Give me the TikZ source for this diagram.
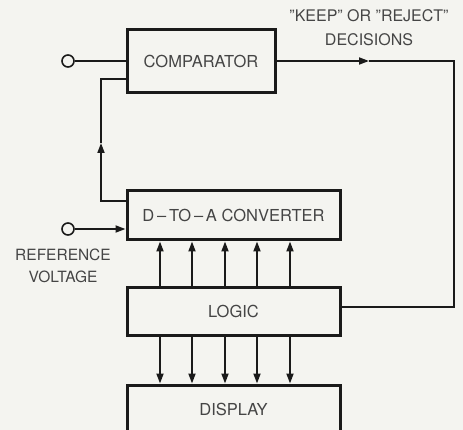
\documentclass[tikz,border=0pt]{standalone}
\usepackage{fontspec}
\setmainfont{TeX Gyre Heros}
\usetikzlibrary{arrows.meta}
\definecolor{txt}{HTML}{454545}
\definecolor{bg}{HTML}{F4F4F0}
\definecolor{ink}{HTML}{1A1A1A}
\begin{document}
\begin{tikzpicture}[x=1pt,y=-1pt,
  blk/.style={draw=ink, line width=3pt, fill=bg, rectangle, inner sep=0pt, font=\fontsize{16.5}{19}\selectfont, text=txt},
  term/.style={draw=ink, line width=1.6pt, circle, minimum size=12pt, inner sep=0pt, fill=bg},
  wire/.style={draw=ink, line width=1.8pt},
  arr/.style={wire, -{Triangle[length=10pt,width=7pt]}},
  lbl/.style={font=\fontsize{16}{19}\selectfont, text=txt, align=center}]
\fill[bg] (0,0) rectangle (463,430);
\useasboundingbox (0,0) rectangle (463,430);

\node[blk, minimum width=148pt, minimum height=63pt] (comp) at (201,61.5) {COMPARATOR};
\node[blk, minimum width=213pt, minimum height=49pt] (dac) at (233.5,215.5) {D\,–\,TO\,–\,A CONVERTER};
\node[blk, minimum width=213pt, minimum height=47pt] (logic) at (233.5,311.5) {LOGIC};
\node[blk, minimum width=213pt, minimum height=48pt] (disp) at (233.5,409) {DISPLAY};

\node[term] (t1) at (68,61) {};
\node[term] (t2) at (68,229) {};

\node[lbl, font=\fontsize{16}{24}\selectfont] (keep) at (369,28) {''KEEP'' OR ''REJECT''\\DECISIONS};
\node[lbl, font=\fontsize{15.5}{22}\selectfont] (ref) at (63,266) {REFERENCE\\VOLTAGE};

% comparator input
\draw[wire] (t1.east) -- (comp.west |- t1);
% feedback from DAC to comparator
\coordinate (fbtop) at (101,79);
\coordinate (fbbot) at (101,201);
\coordinate (fbmid) at (101,143);
\draw[arr] (dac.west |- fbbot) -- (fbbot) -- (fbmid);
\draw[wire] (fbmid) -- (fbtop) -- (comp.west |- fbtop);
% reference input
\draw[arr] (t2.east) -- (dac.west |- t2);
% output decisions
\coordinate (omid) at (369,61);
\coordinate (ocorner) at (454,61);
\coordinate (ocorner2) at (454,307);
\draw[arr] (comp.east |- omid) -- (omid);
\draw[wire] (omid) -- (ocorner) -- (ocorner2) -- (logic.east |- ocorner2);
% buses
\foreach \x in {160,192,225,257,290} {
  \draw[arr] (logic.north -| \x,0) -- (dac.south -| \x,0);
  \draw[arr] (logic.south -| \x,0) -- (disp.north -| \x,0);
}
\end{tikzpicture}
\end{document}
